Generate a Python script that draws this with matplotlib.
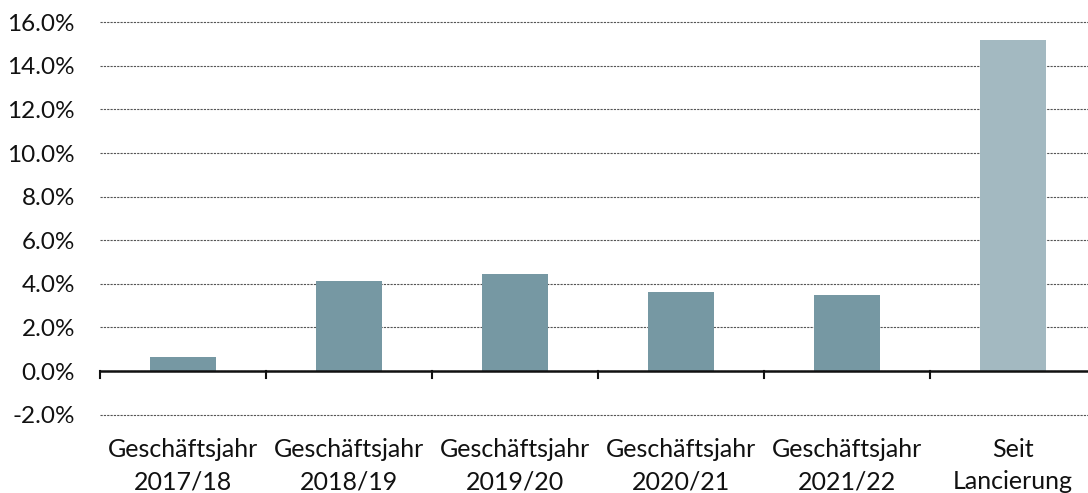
import matplotlib
matplotlib.use("Agg")
import matplotlib.pyplot as plt
from matplotlib.ticker import FuncFormatter

categories = ["Geschäftsjahr\n2017/18", "Geschäftsjahr\n2018/19", "Geschäftsjahr\n2019/20",
              "Geschäftsjahr\n2020/21", "Geschäftsjahr\n2021/22", "Seit\nLancierung"]
values = [0.63, 4.13, 4.46, 3.62, 3.49, 15.18]
bar_colors = ["#7698A3", "#7698A3", "#7698A3", "#7698A3", "#7698A3", "#A3B9C1"]
yticks = [-2, 0, 2, 4, 6, 8, 10, 12, 14, 16]

plt.rcParams['font.family'] = ['Lato', 'DejaVu Sans']

W, H = 1088, 493
fig = plt.figure(figsize=(W / 100, H / 100), dpi=100)
ymin, ymax = -2.1, 16.1
px_per_unit = 21.8
zero_y = 371.0
top = zero_y - ymax * px_per_unit
bottom = zero_y - ymin * px_per_unit
left, right = 100, 1096
ax = fig.add_axes([left / W, 1 - bottom / H, (right - left) / W, (bottom - top) / H])

x = list(range(len(categories)))
ax.bar(x, values, width=0.4, color=bar_colors, zorder=3)
ax.set_xlim(-0.5, len(categories) - 0.5)
ax.set_ylim(ymin, ymax)

for s in ax.spines.values():
    s.set_visible(False)

ax.set_yticks(yticks)
ax.yaxis.set_major_formatter(FuncFormatter(lambda v, p: f"{v:.1f}%"))
ax.tick_params(axis='y', length=0, pad=18, labelsize=17.5, labelcolor="#111111")
ax.yaxis.grid(True, linestyle=(0, (2, 1)), color="#555555", linewidth=0.8, zorder=0)

ax.axhline(0, color="#111111", linewidth=1.8, zorder=4)

for b in [i - 0.5 for i in range(len(categories) + 1)]:
    ax.plot([b, b], [0, -0.3], color="#111111", linewidth=1.5, zorder=4, clip_on=False)

ax.set_xticks(x)
ax.set_xticklabels(categories, fontsize=18, color="#111111", linespacing=1.5)
ax.tick_params(axis='x', length=0, pad=15)

fig.savefig("out.png", dpi=100)
